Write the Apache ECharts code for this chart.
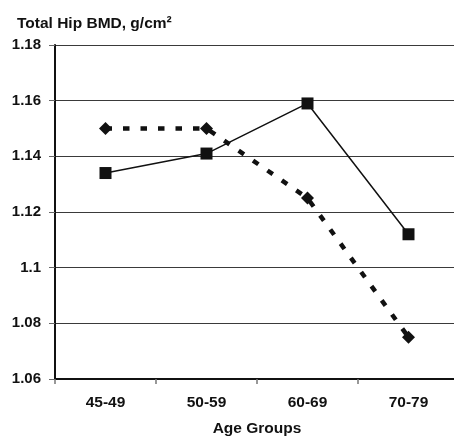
<!DOCTYPE html>
<html>
<head>
<meta charset="utf-8">
<script src="https://cdn.jsdelivr.net/npm/echarts@6/dist/echarts.min.js"></script>
<style>
  html, body { margin: 0; padding: 0; background: #fff; }
  #chart { width: 454px; height: 436px; }
</style>
</head>
<body>
<div id="chart"></div>
<script>
// data
var ageGroups = ['45-49', '50-59', '60-69', '70-79'];
var squareSeries = [1.134, 1.141, 1.159, 1.112];
var diamondSeries = [1.150, 1.150, 1.125, 1.075];
var yTicks = { min: 1.06, max: 1.18, step: 0.02 };

var font = '"Liberation Sans", Arial, sans-serif';
var chart = echarts.init(document.getElementById('chart'));

var option = {
  animation: false,
  title: {
    text: 'Total Hip BMD, g/cm²',
    left: 12,
    top: 11,
    textStyle: { fontFamily: font, fontSize: 15.5, fontWeight: 'bold', color: '#111' }
  },
  // plot runs a little past the right edge, as in the original
  grid: { left: 55, top: 45, width: 404, height: 334, outerBoundsMode: 'none', containLabel: false },
  xAxis: {
    type: 'category',
    data: ageGroups,
    boundaryGap: true,
    name: 'Age Groups',
    nameLocation: 'middle',
    nameGap: 42,
    nameTextStyle: { fontFamily: font, fontSize: 15.5, fontWeight: 'bold', color: '#111' },
    axisLine: { lineStyle: { color: '#111', width: 2 } },
    axisTick: { show: true, length: 5, lineStyle: { color: '#777', width: 1.5 } },
    axisLabel: { margin: 16, fontFamily: font, fontSize: 15.5, fontWeight: 'bold', color: '#111' },
    splitLine: { show: false }
  },
  yAxis: {
    type: 'value',
    min: yTicks.min,
    max: yTicks.max,
    interval: yTicks.step,
    axisLine: { show: true, lineStyle: { color: '#111', width: 2 } },
    axisTick: { show: true, length: 6, lineStyle: { color: '#666', width: 1 } },
    axisLabel: {
      margin: 14,
      fontFamily: font, fontSize: 15, fontWeight: 'bold', color: '#111',
      formatter: function (v) { return String(+v.toFixed(2)); }
    },
    splitLine: { show: true, lineStyle: { color: '#3a3a3a', width: 1 } }
  },
  series: [
    {
      name: 'diamond',
      type: 'line',
      data: diamondSeries,
      symbol: 'diamond',
      symbolSize: [13, 13],
      itemStyle: { color: '#111' },
      lineStyle: { color: '#111', width: 4.5, type: [6.5, 11] },
      z: 2
    },
    {
      name: 'square',
      type: 'line',
      data: squareSeries,
      symbol: 'rect',
      symbolSize: 12,
      itemStyle: { color: '#111' },
      lineStyle: { color: '#111', width: 1.5, type: 'solid' },
      z: 3
    }
  ]
};

chart.setOption(option);
</script>
</body>
</html>
